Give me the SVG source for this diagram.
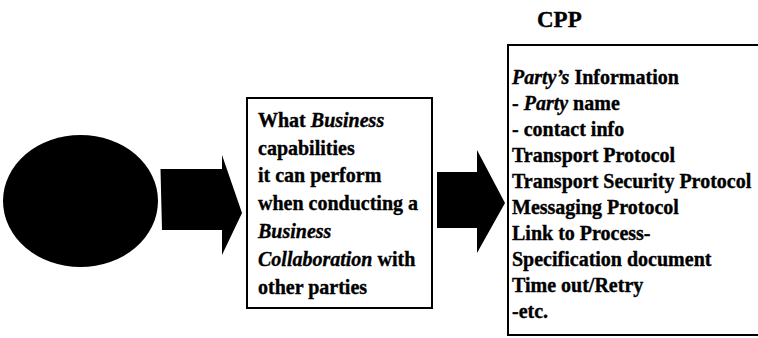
<svg xmlns="http://www.w3.org/2000/svg" width="758" height="338" viewBox="0 0 758 338">
<style>
.t{font-family:"Liberation Serif","Times New Roman",serif;font-weight:bold;font-size:20px;fill:#000;stroke:#000;stroke-width:0.35}
.i{font-style:italic}
.box{fill:#fff;stroke:#000;stroke-width:2}
.arrow{fill:#000;stroke:none}
</style>
<rect width="758" height="338" fill="#fff"/>
<g id="party">
<ellipse cx="80.5" cy="201" rx="77.5" ry="66" fill="#000"/>
</g>
<g id="connectors">
<polygon class="arrow" points="160.5,169 222,169 222,155 242,213 222,255 222,230 162,230"/>
<polygon class="arrow" points="437,172 477,172 477,150 505,203 477,253 477,228 437,228"/>
</g>
<g id="capabilities">
<rect class="box" x="247" y="98" width="185" height="210"/>
<text class="t" x="258" y="127">What <tspan class="i">Business</tspan></text>
<text class="t" x="258" y="155">capabilities</text>
<text class="t" x="258" y="182">it can perform</text>
<text class="t" x="258" y="210">when conducting a</text>
<text class="t i" x="258" y="238">Business</text>
<text class="t" x="258" y="266"><tspan class="i">Collaboration</tspan> with</text>
<text class="t" x="258" y="294">other parties</text>
</g>
<g id="cpp">
<text class="t" x="537" y="27" style="font-size:23px">CPP</text>
<rect class="box" x="508" y="45" width="260" height="290"/>
<text class="t" x="512" y="84"><tspan class="i">Party’s</tspan> Information</text>
<text class="t" x="512" y="110">- <tspan class="i">Party</tspan> name</text>
<text class="t" x="512" y="136">- contact info</text>
<text class="t" x="512" y="162">Transport Protocol</text>
<text class="t" x="512" y="188">Transport Security Protocol</text>
<text class="t" x="512" y="214">Messaging Protocol</text>
<text class="t" x="512" y="240">Link to Process-</text>
<text class="t" x="512" y="266">Specification document</text>
<text class="t" x="512" y="292">Time out/Retry</text>
<text class="t" x="512" y="318">-etc.</text>
</g>
</svg>
